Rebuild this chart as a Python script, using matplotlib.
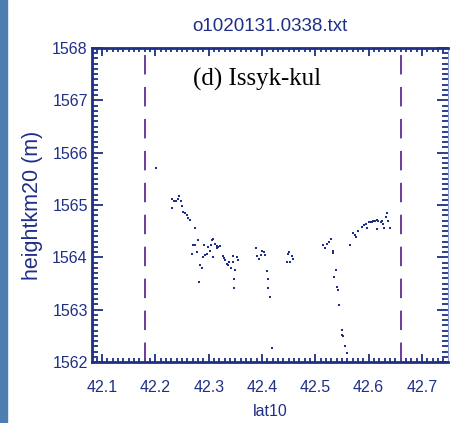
import matplotlib
matplotlib.use('Agg')
import matplotlib.pyplot as plt
from matplotlib.patches import Rectangle
from matplotlib.ticker import MultipleLocator

# along-track footprints: latitude and elevation
lat = [42.2007, 42.2318, 42.2356, 42.2388, 42.2419, 42.2449, 42.2476, 42.2313,
       42.2494, 42.2524, 42.2556, 42.2588, 42.2618, 42.2650, 42.2744, 42.2806,
       42.2712, 42.2744, 42.2682, 42.2787, 42.2838, 42.2869, 42.2813, 42.2899,
       42.2931, 42.2963, 42.2913, 42.2993, 42.3025, 42.3038, 42.3057, 42.3076,
       42.3087, 42.3119, 42.3151, 42.3181, 42.3213, 42.3162, 42.3263, 42.3288,
       42.3312, 42.3338, 42.3363, 42.3387, 42.3419, 42.3451, 42.3462, 42.3494,
       42.3537, 42.3544, 42.3481, 42.3481, 42.3888, 42.3912, 42.3950, 42.3976,
       42.4006, 42.4038, 42.4056, 42.4088, 42.4113, 42.4118, 42.4150, 42.4182,
       42.4463, 42.4493, 42.4512, 42.4557, 42.4587, 42.4520, 42.5150, 42.5181,
       42.5213, 42.5262, 42.5288, 42.5326, 42.5337, 42.5388, 42.5356, 42.5412,
       42.5425, 42.5450, 42.5495, 42.5506, 42.5513, 42.5556, 42.5588, 42.5650,
       42.5701, 42.5744, 42.5763, 42.5806, 42.5870, 42.5913, 42.5950, 42.5975,
       42.6025, 42.6063, 42.6119, 42.6151, 42.6181, 42.6226, 42.6263, 42.6288,
       42.6325, 42.6338, 42.6368, 42.6400, 42.6000, 42.6090, 42.6160, 42.6250]
height = [1565.70, 1565.11, 1565.08, 1565.07, 1565.11, 1565.17, 1565.08, 1564.94,
          1564.99, 1564.87, 1564.84, 1564.80, 1564.75, 1564.72, 1564.56, 1564.34,
          1564.24, 1564.23, 1564.07, 1564.11, 1563.86, 1563.80, 1563.53, 1564.01,
          1564.04, 1564.07, 1564.24, 1564.20, 1564.13, 1564.23, 1564.34, 1564.35,
          1564.01, 1564.26, 1564.22, 1564.20, 1564.22, 1564.18, 1564.02, 1563.99,
          1563.94, 1563.88, 1563.85, 1563.91, 1563.80, 1564.02, 1563.91, 1563.75,
          1564.01, 1563.94, 1563.58, 1563.42, 1564.18, 1564.03, 1563.97, 1564.04,
          1564.13, 1564.11, 1564.04, 1563.73, 1563.58, 1563.42, 1563.25, 1562.27,
          1563.91, 1564.07, 1564.11, 1564.03, 1563.97, 1563.91, 1564.23, 1564.18,
          1564.26, 1564.30, 1564.35, 1564.13, 1564.09, 1563.75, 1563.63, 1563.44,
          1563.37, 1563.09, 1562.61, 1562.52, 1562.49, 1562.30, 1562.17, 1564.24,
          1564.47, 1564.42, 1564.39, 1564.51, 1564.58, 1564.61, 1564.64, 1564.56,
          1564.67, 1564.68, 1564.70, 1564.54, 1564.70, 1564.68, 1564.64, 1564.56,
          1564.77, 1564.85, 1564.70, 1564.56, 1564.68, 1564.69, 1564.71, 1564.69]

lake_edges = [42.181, 42.660]
title = 'o1020131.0338.txt'
panel = '(d) Issyk-kul'

navy = '#1f2f86'
purple = '#6a3d9a'
sans = 'Liberation Sans'
plt.rcParams['lines.scale_dashes'] = False

fig = plt.figure(figsize=(4.5, 4.23), dpi=100)
fig.patches.append(Rectangle((0, 0), 7 / 450, 1, transform=fig.transFigure,
                             color='#4e7db2', zorder=-1))
ax = fig.add_axes([92 / 450, 61 / 423, 356 / 450, 314 / 423])

ax.plot(lat, height, 's', color=navy, markersize=2.0, markeredgewidth=0)
for xe in lake_edges:
    ax.axvline(xe, color=purple, lw=1.4, dashes=(14, 9))

ax.set_xlim(42.081, 42.749)
ax.set_ylim(1562, 1568)
ax.xaxis.set_major_locator(MultipleLocator(0.1))
ax.xaxis.set_minor_locator(MultipleLocator(0.01))
ax.yaxis.set_major_locator(MultipleLocator(1))
ax.yaxis.set_minor_locator(MultipleLocator(0.1))
ax.xaxis.set_major_formatter(lambda v, p: f'{v:.1f}')
ax.yaxis.set_major_formatter(lambda v, p: f'{v:.0f}')

ax.tick_params(which='both', direction='in', top=True, right=True, color=navy,
               labelcolor=navy, width=1.3)
ax.tick_params(axis='y', which='major', length=8, pad=3)
ax.tick_params(axis='y', which='minor', length=4)
ax.tick_params(axis='x', which='major', length=6, pad=13)
ax.tick_params(axis='x', which='minor', length=3)
for lab in ax.get_xticklabels() + ax.get_yticklabels():
    lab.set_family(sans)
    lab.set_fontsize(11.5)

for s in ['left', 'bottom', 'top']:
    ax.spines[s].set_color(navy)
    ax.spines[s].set_linewidth(2)
ax.spines['right'].set_color('#8a9ac8')
ax.spines['right'].set_linewidth(0.8)

ax.set_title(title, color=navy, family=sans, fontsize=13.5, pad=12)
ax.set_xlabel('lat10', color=navy, family=sans, fontsize=11.5)
ax.xaxis.set_label_coords(0.5, -0.135)
ax.set_ylabel('heightkm20 (m)', color=navy, family=sans, fontsize=15.5)
ax.yaxis.set_label_coords(-0.138, 0.5)
ax.text(42.39, 1567.39, panel, family='Liberation Serif', fontsize=18,
        color='black', ha='center', va='center')

plt.savefig('out.png', dpi=100)
